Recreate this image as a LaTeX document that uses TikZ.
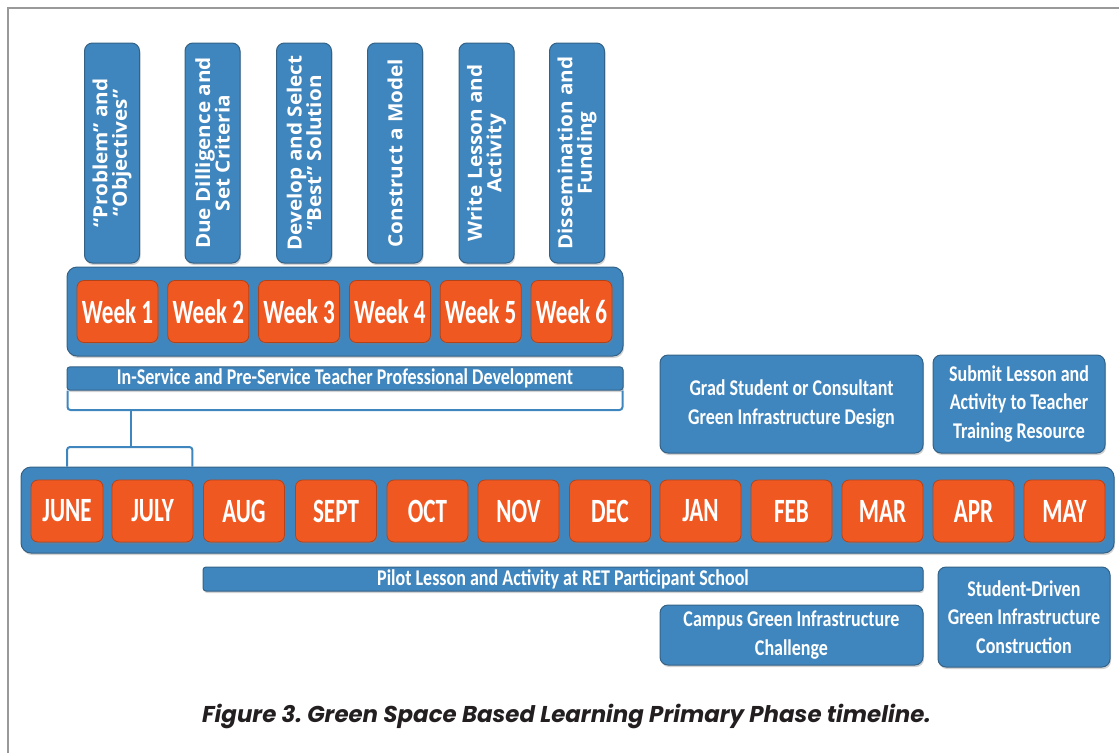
\documentclass[tikz,border=0pt]{standalone}
\usepackage{fontspec}
\setmainfont{Carlito}
\newfontfamily\topfont{Open Sans}[FakeStretch=1.06]
\newfontfamily\monthfont{Carlito}[FakeStretch=0.68]
\newfontfamily\barfont{Carlito}[FakeStretch=0.8]
\newfontfamily\capfont{Poppins}
\usepackage{tikz}
\usetikzlibrary{shadows}

\definecolor{tlblue}{RGB}{64,134,190}
\definecolor{tledge}{RGB}{52,98,135}
\definecolor{tlorange}{RGB}{240,88,34}
\definecolor{capgray}{RGB}{35,31,32}

\begin{document}
\begin{tikzpicture}[x=1pt,y=-1pt,
    bluebox/.style={draw=tledge,fill=tlblue,line width=1pt,rounded corners=8pt,text=white,align=center,inner sep=2pt,
      drop shadow={shadow xshift=1pt,shadow yshift=-2pt,opacity=0.35}},
    topbox/.style={bluebox,rotate=90,minimum width=220,minimum height=55,font=\topfont\bfseries\fontsize{19.5}{19.5}\selectfont},
    holder/.style={bluebox,rounded corners=10pt},
    bar/.style={bluebox,rounded corners=3pt,font=\barfont\bfseries\fontsize{22.5}{22.5}\selectfont},
    note/.style={bluebox,font=\barfont\bfseries\fontsize{22.5}{28.5}\selectfont},
    tab/.style={draw=tlorange!75!black,fill=tlorange,line width=0.8pt,rounded corners=7pt,text=white,inner sep=1pt,
      minimum width=81,minimum height=62,font=\monthfont\bfseries\fontsize{34}{34}\selectfont,
      drop shadow={shadow xshift=1pt,shadow yshift=-2pt,opacity=0.35}},
    brace/.style={draw=tlblue,line width=2pt,rounded corners=3pt}]
    \useasboundingbox (0,0) rectangle (1119,753);
    \draw[gray!80,line width=1.6pt] (8,753) -- (8,8) -- (1119,8);

    % six steps above the weeks
    \node[topbox] (step1) at (112,153) {“Problem” and\\“Objectives”};
    \node[topbox] (step2) at (212.5,153) {Due Dilligence and\\Set Criteria};
    \node[topbox] (step3) at (304,153) {Develop and Select\\“Best” Solution};
    \node[topbox] (step4) at (395,153) {Construct a Model};
    \node[topbox] (step5) at (486.5,153) {Write Lesson and\\Activity};
    \node[topbox] (step6) at (577,153) {Dissemination and\\Funding};

    % weeks
    \node[holder,minimum width=556,minimum height=89] (weeks) at (345,311.5) {};
    \node[tab] (w1) at (117.5,311.5) {Week 1};
    \node[tab] (w2) at (208.3,311.5) {Week 2};
    \node[tab] (w3) at (299.1,311.5) {Week 3};
    \node[tab] (w4) at (389.9,311.5) {Week 4};
    \node[tab] (w5) at (480.7,311.5) {Week 5};
    \node[tab] (w6) at (571.5,311.5) {Week 6};

    \node[bar,minimum width=556,minimum height=23] (pd) at (345,378.5) {In-Service and Pre-Service Teacher Professional Development};

    % months
    \node[holder,minimum width=1093,minimum height=86] (months) at (567.5,510) {};
    \node[tab,minimum width=72] (jun) at (67,511) {JUNE};
    \node[tab] (jul) at (152.5,511) {JULY};
    \node[tab] (aug) at (244,511) {AUG};
    \node[tab] (sep) at (336,511) {SEPT};
    \node[tab] (oct) at (427.5,511) {OCT};
    \node[tab] (nov) at (518.5,511) {NOV};
    \node[tab] (dec) at (610,511) {DEC};
    \node[tab] (jan) at (700.5,511) {JAN};
    \node[tab] (feb) at (791.5,511) {FEB};
    \node[tab] (mar) at (882.5,511) {MAR};
    \node[tab] (apr) at (973.5,511) {APR};
    \node[tab] (may) at (1064.5,511) {MAY};

    % bracket from the development bar down to june and july
    \coordinate (split) at (131,410);
    \draw[brace] ([xshift=1pt]pd.south west) -- ([xshift=1pt]pd.south west |- split) -- ([xshift=-1pt]pd.south east |- split) -- ([xshift=-1pt]pd.south east);
    \coordinate (join) at (131,447);
    \draw[brace] (split) -- (join);
    \draw[brace] (jun |- months.north) -- (jun |- join) -- ([xshift=-1pt]jul.east |- join) -- ([xshift=-1pt]jul.east |- months.north);

    % other tasks
    \node[note,minimum width=263,minimum height=98] (grad) at (791.5,404) {Grad Student or Consultant\\Green Infrastructure Design};
    \node[note,minimum width=172,minimum height=98] (submit) at (1019,404) {Submit Lesson and\\Activity to Teacher\\Training Resource};
    \node[bar,minimum width=720,minimum height=24] (pilot) at (563,579) {Pilot Lesson and Activity at RET Participant School};
    \node[note,minimum width=263,minimum height=60] (campus) at (791.5,635) {Campus Green Infrastructure\\Challenge};
    \node[note,minimum width=172,minimum height=100] (build) at (1024,617) {Student-Driven\\Green Infrastructure\\Construction};

    \node[anchor=base,text=capgray,font=\capfont\bfseries\itshape\fontsize{22.9}{26}\selectfont] (caption) at (566.5,722) {Figure 3.\ Green Space Based Learning Primary Phase timeline.};
\end{tikzpicture}
\end{document}
